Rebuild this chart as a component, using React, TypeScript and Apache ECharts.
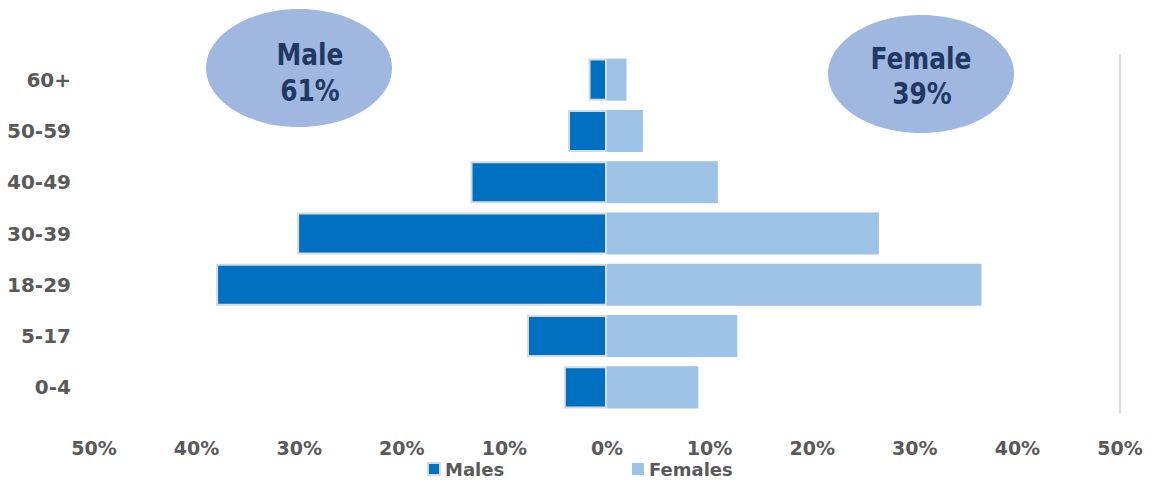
import React, { useEffect, useRef } from "react";
import * as echarts from "echarts";

const categories = ["0-4", "5-17", "18-29", "30-39", "40-49", "50-59", "60+"];
const malesPct = [4.2, 7.8, 38.1, 30.2, 13.3, 3.8, 1.8];
const femalesPct = [8.9, 12.7, 36.5, 26.5, 10.8, 3.5, 1.9];
const maleShare = "61%";
const femaleShare = "39%";

const MALE_COLOR = "#0070C0";
const FEMALE_COLOR = "#9DC3E6";
const LABEL_COLOR = "#595959";
const ELLIPSE_FILL = "#A0B8E0";
const ELLIPSE_TEXT = "#1F3864";
const FONT = "'DejaVu Sans', Verdana, sans-serif";

export default function App() {
  const ref = useRef<HTMLDivElement>(null);
  useEffect(() => {
    if (!ref.current) return;
    const chart = echarts.init(ref.current, undefined, { renderer: "svg" });
    const ellipseText = (text: string, x: number, y: number) => ({
      type: "text",
      x,
      y,
      scaleX: 0.83,
      z: 10,
      style: {
        text,
        x: 0,
        y: 0,
        align: "center",
        verticalAlign: "middle",
        fontSize: 30,
        fontWeight: "bold",
        fontFamily: FONT,
        fill: ELLIPSE_TEXT,
      },
    });
    const legendText = {
      color: LABEL_COLOR,
      fontSize: 18,
      fontWeight: "bold",
      fontFamily: FONT,
      lineHeight: 20,
    };
    chart.setOption({
      animation: false,
      backgroundColor: "#ffffff",
      grid: { left: 94, right: 45, top: 54, bottom: 70, containLabel: false },
      xAxis: {
        type: "value",
        min: -50,
        max: 50,
        interval: 10,
        axisLine: { show: false },
        axisTick: { show: false },
        splitLine: { show: false },
        axisLabel: {
          formatter: (v: number) => Math.abs(v) + "%",
          color: LABEL_COLOR,
          fontSize: 19,
          fontWeight: "bold",
          fontFamily: FONT,
          margin: 25,
        },
      },
      yAxis: {
        type: "category",
        data: categories,
        axisLine: { show: false },
        axisTick: { show: false },
        splitLine: { show: false },
        axisLabel: {
          color: LABEL_COLOR,
          fontSize: 20,
          fontWeight: "bold",
          fontFamily: FONT,
          margin: 23,
        },
      },
      legend: [
        {
          data: ["Males"],
          left: 427,
          top: 459,
          padding: 0,
          itemWidth: 12,
          itemHeight: 12,
          icon: "rect",
          textStyle: legendText,
        },
        {
          data: ["Females"],
          left: 632,
          top: 459,
          padding: 0,
          itemWidth: 12,
          itemHeight: 12,
          icon: "rect",
          textStyle: legendText,
        },
      ],
      series: [
        {
          name: "Males",
          type: "bar",
          data: malesPct.map((v) => -v),
          barCategoryGap: "18%",
          barGap: "-100%",
          itemStyle: { color: MALE_COLOR, borderColor: "#D9D9D9", borderWidth: 2 },
        },
        {
          name: "Females",
          type: "bar",
          data: femalesPct,
          barCategoryGap: "18%",
          barGap: "-100%",
          itemStyle: { color: FEMALE_COLOR },
          markLine: {
            silent: true,
            symbol: "none",
            label: { show: false },
            lineStyle: { color: "#D9D9D9", width: 2, type: "solid" },
            data: [{ xAxis: 50 }],
          },
        },
      ],
      graphic: [
        {
          type: "ellipse",
          shape: { cx: 299, cy: 68, rx: 93, ry: 59 },
          style: { fill: ELLIPSE_FILL },
          z: 5,
        },
        {
          type: "ellipse",
          shape: { cx: 921, cy: 74, rx: 93, ry: 59 },
          style: { fill: ELLIPSE_FILL },
          z: 5,
        },
        ellipseText("Male", 310, 54),
        ellipseText(maleShare, 310, 90),
        ellipseText("Female", 921, 58),
        ellipseText(femaleShare, 922, 93),
      ],
    });
    return () => chart.dispose();
  }, []);
  return (
    <div
      ref={ref}
      style={{ position: "fixed", left: 0, top: 0, width: 1165, height: 483 }}
    />
  );
}
